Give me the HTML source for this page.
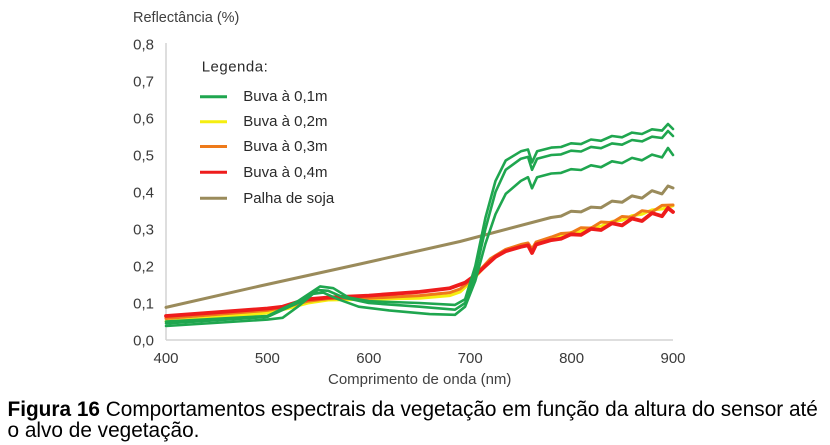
<!DOCTYPE html>
<html>
<head>
<meta charset="utf-8">
<style>
  html, body { margin:0; padding:0; background:#ffffff; }
  body { width:830px; height:445px; overflow:hidden; }
  svg { display:block; }
  text { font-family: "Liberation Sans", Arial, sans-serif; }
</style>
</head>
<body>
<svg width="830" height="445" viewBox="0 0 830 445" xmlns="http://www.w3.org/2000/svg">
  <rect x="0" y="0" width="830" height="445" fill="#ffffff"/>

  <!-- axes -->
  <line x1="166" y1="43" x2="166" y2="340" stroke="#d3d3d3" stroke-width="1.5"/>
  <line x1="166" y1="340" x2="673" y2="340" stroke="#d3d3d3" stroke-width="1.5"/>

  <!-- y title -->
  <text x="133" y="22" font-size="14.5" fill="#404040">Reflectância (%)</text>

  <!-- y tick labels -->
  <g font-size="15" fill="#3a3a3a" text-anchor="end">
    <text x="154" y="49.5">0,8</text>
    <text x="154" y="86.5">0,7</text>
    <text x="154" y="123.5">0,6</text>
    <text x="154" y="160.5">0,5</text>
    <text x="154" y="197.5">0,4</text>
    <text x="154" y="234.5">0,3</text>
    <text x="154" y="271.5">0,2</text>
    <text x="154" y="308.5">0,1</text>
    <text x="154" y="345.5">0,0</text>
  </g>

  <!-- x tick labels -->
  <g font-size="15" fill="#3a3a3a" text-anchor="middle">
    <text x="166" y="363">400</text>
    <text x="267.4" y="363">500</text>
    <text x="368.8" y="363">600</text>
    <text x="470.2" y="363">700</text>
    <text x="571.6" y="363">800</text>
    <text x="673" y="363">900</text>
  </g>

  <!-- x title -->
  <text x="328" y="384" font-size="15" fill="#404040">Comprimento de onda (nm)</text>

  <!-- series -->
  <g fill="none" stroke-linejoin="round" stroke-linecap="round">
    <!-- Palha de soja -->
    <polyline stroke="#9a8b5b" stroke-width="3"
      points="166,307.4 260,286 360,264 460,241.5 551,217.5 561,216.1 571,211.3 581,211.9 591,207.1 601,207.7 612,201.1 622,202.3 632,195.9 642,198.1 652,190.7 662,193.9 668,186 673,188"/>

    <!-- Buva 0.2 (yellow) -->
    <polyline stroke="#f5ee10" stroke-width="3"
      points="166,321.5 267.4,313 287.7,308.5 308,303 328.2,300 368.8,299.3 419.5,298.2 449.9,295.6 460.1,292 470.2,282.7 480.3,271.5 490.5,260.5 505.7,251 520.9,245.7 528,244.5 532,250 536.1,243 551.3,238.2 561,236.6 571,232.4 581,231.5 591,227.6 601,226.2 612,221.4 622,220.2 632,215.6 642,214.3 652,209.9 662,209 673,205.8"/>

    <!-- Buva 0.3 (orange) -->
    <polyline stroke="#ee7a1a" stroke-width="3"
      points="166,318.5 267.4,310.4 287.7,306.5 308,301.2 328.2,298.6 368.8,298.2 419.5,295.6 449.9,292.6 460.1,289 470.2,280.8 480.3,269.7 490.5,258.6 505.7,249.4 520.9,244.5 528,243 532,249 536.1,242 551.3,237.1 561,233.5 571,232.9 581,227.7 591,228.1 601,222 612,222.6 622,216.5 632,217.3 642,210.7 652,212 662,205.4 673,205"/>

    <!-- Buva 0.4 (red) -->
    <polyline stroke="#ee1c1c" stroke-width="3.8"
      points="166,316 216.7,312.3 267.4,308.5 282.6,306.7 297.8,302 308,299.3 328.2,297.5 368.8,295.6 419.5,291.9 449.9,288.2 465.1,282.7 475.3,275.3 485.4,266 495.5,256.8 505.7,251.2 520.9,246.8 528,245.3 532,253 536.1,244.5 551.3,240.1 561,238.7 571,234.3 581,234.9 591,228.9 601,230 612,223.3 622,225.4 632,218.5 642,221 652,213.1 662,216.2 668,208 673,212"/>

    <!-- Buva 0.1 (three green lines) -->
    <polyline stroke="#1fa64f" stroke-width="2.6"
      points="166,326 267.4,319.6 282.6,317.8 297.8,306.7 313.1,293.8 323.2,292.6 338.4,299.3 358.7,306.7 389.1,310.4 429.6,314.1 455,314.8 465.1,306.7 475.3,280.8 485.4,243.8 495.5,214.2 505.7,193.9 520.9,180.9 528,177.2 532,188.3 537.1,177.2 551.3,173.5 561,172.9 571,169.2 581,170 591,165.3 601,167.2 612,161.3 622,163.1 632,157.9 642,160.3 652,154.6 662,157.4 668,148 673,155"/>
    <polyline stroke="#1fa64f" stroke-width="2.6"
      points="166,323.4 267.4,317 297.8,303 318.1,290 328.2,290.8 343.5,297.5 368.8,303 419.5,306.7 455,309.7 465.1,303 475.3,273.4 485.4,229 495.5,192 505.7,169.8 520.9,158.7 528,156.9 532,169.8 537.1,158.7 551.3,155 561,154.4 571,150.7 581,151.5 591,146.9 601,148.2 612,143.4 622,144.7 632,140 642,141.4 652,136.7 662,138 668,131 673,136"/>
    <polyline stroke="#1fa64f" stroke-width="2.6"
      points="166,321.5 267.4,316 297.8,301.2 320.1,286.4 333.3,288.2 348.5,297.5 368.8,301.2 419.5,303 455,304.9 465.1,299.3 475.3,266 485.4,217.9 495.5,180.9 505.7,160.5 520.9,151.3 528,149.5 532,162.4 537.1,151.3 551.3,147.6 561,147 571,143.3 581,144.1 591,139.5 601,140.8 612,136 622,137.3 632,132.6 642,134 652,129.3 662,130.6 668,124 673,129"/>
  </g>

  <!-- legend -->
  <text x="201.7" y="71.7" font-size="15" fill="#2a2a2a" letter-spacing="0.5">Legenda:</text>
  <g stroke-width="3">
    <line x1="200" y1="96.7" x2="227" y2="96.7" stroke="#1fa64f"/>
    <line x1="200" y1="121.7" x2="227" y2="121.7" stroke="#f5ee10"/>
    <line x1="200" y1="146.5" x2="227" y2="146.5" stroke="#ee7a1a"/>
    <line x1="200" y1="172.3" x2="227" y2="172.3" stroke="#ee1c1c"/>
    <line x1="200" y1="198.3" x2="227" y2="198.3" stroke="#9a8b5b"/>
  </g>
  <g font-size="15" fill="#2a2a2a">
    <text x="243.3" y="101.2">Buva à 0,1m</text>
    <text x="243.3" y="126.2">Buva à 0,2m</text>
    <text x="243.3" y="151">Buva à 0,3m</text>
    <text x="243.3" y="176.8">Buva à 0,4m</text>
    <text x="243.3" y="202.8">Palha de soja</text>
  </g>

  <!-- caption -->
  <g font-size="20.8" fill="#000000">
    <text x="7.5" y="416"><tspan font-weight="bold">Figura 16</tspan> Comportamentos espectrais da vegetação em função da altura do sensor até</text>
    <text x="7.5" y="437">o alvo de vegetação.</text>
  </g>
</svg>
</body>
</html>
